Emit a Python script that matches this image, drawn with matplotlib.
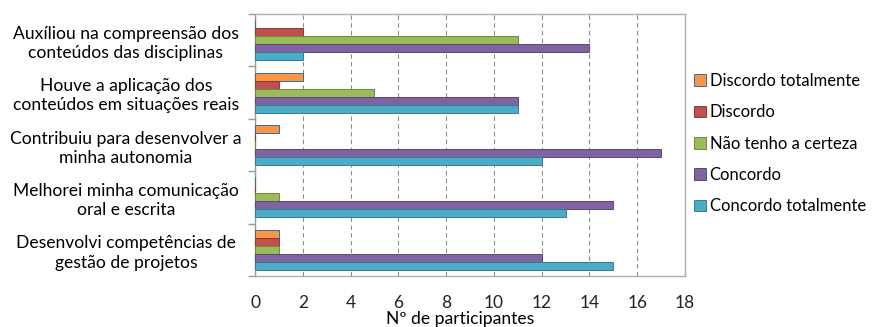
import numpy as np
import matplotlib.pyplot as plt
from matplotlib.ticker import MultipleLocator, FixedLocator

plt.rcParams['font.family'] = ['Lato', 'DejaVu Sans']

# Affirmations (top to bottom)
categories = [
    "Auxíliou na compreensão dos\nconteúdos das disciplinas",
    "Houve a aplicação dos\nconteúdos em situações reais",
    "Contribuiu para desenvolver a\nminha autonomia",
    "Melhorei minha comunicação\noral e escrita",
    "Desenvolvi competências de\ngestão de projetos",
]

# Answer options and counts per affirmation
answers = ["Discordo totalmente", "Discordo", "Não tenho a certeza", "Concordo", "Concordo totalmente"]
discordo_totalmente = [0, 2, 1, 0, 1]
discordo = [2, 1, 0, 0, 1]
nao_tenho_certeza = [11, 5, 0, 1, 1]
concordo = [14, 11, 17, 15, 12]
concordo_totalmente = [2, 11, 12, 13, 15]

series = [discordo_totalmente, discordo, nao_tenho_certeza, concordo, concordo_totalmente]
colors = ["#F79646", "#C0504D", "#9BBB59", "#8064A2", "#4BACC6"]
edges = ["#3F6A9A", "#8C3A38", "#71893F", "#5C4776", "#357D91"]

fig = plt.figure(figsize=(8.74, 3.27), dpi=100)
ax = fig.add_axes([0.2918, 0.156, 0.4920, 0.801])

y = np.arange(len(categories))
h = 0.153
for j, (vals, c, ec, lab) in enumerate(zip(series, colors, edges, answers)):
    ax.barh(y + (j - 2) * h, vals, height=h, color=c, edgecolor=ec,
            linewidth=0.7, label=lab, zorder=3)

ax.set_xlim(0, 18)
ax.set_ylim(len(categories) - 0.5, -0.5)
ax.xaxis.set_major_locator(MultipleLocator(2))
ax.grid(axis='x', color='#8c8c8c', linestyle=(0, (4, 3)), linewidth=0.8, zorder=0)

ax.set_yticks(y)
ax.set_yticklabels(categories, multialignment='center', ha='center', fontsize=12.6,
                   linespacing=1.25)
ax.yaxis.set_minor_locator(FixedLocator(np.arange(-0.5, len(categories), 1)))
ax.tick_params(axis='y', which='major', length=0, pad=93)
ax.tick_params(axis='y', which='minor', length=5, color='#999999', width=1)
ax.tick_params(axis='x', length=0, labelsize=12.5, pad=14, colors='#222222')

for s in ax.spines.values():
    s.set_color('#b0b0b0')
    s.set_linewidth(1)
ax.spines['left'].set_color('#999999')

ax.set_xlabel("Nº de participantes", fontsize=12.6, labelpad=0)
ax.xaxis.set_label_coords(0.478, -0.135)

leg = ax.legend(loc='upper left', bbox_to_anchor=(1.005, 0.80), frameon=False,
                fontsize=12.0, handlelength=0.7, handleheight=0.7,
                handletextpad=0.25, labelspacing=0.92, borderaxespad=0)

fig.savefig("out.png", dpi=100)
